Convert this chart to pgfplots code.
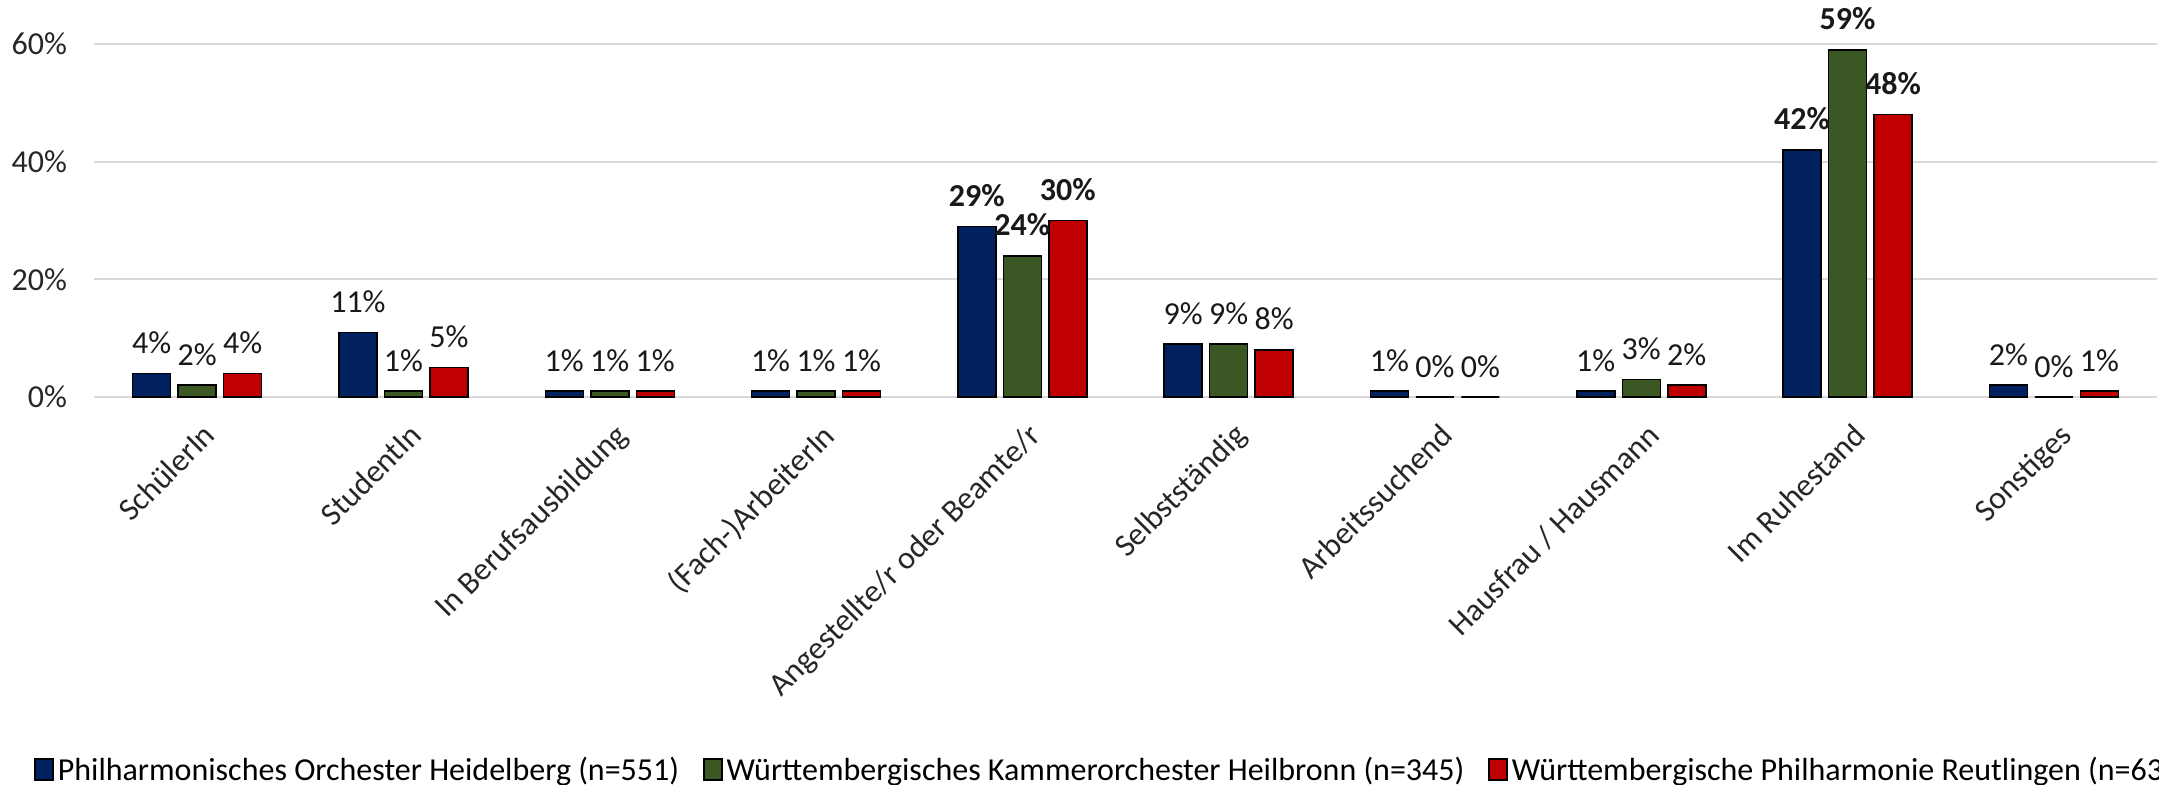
\documentclass[border=0pt]{standalone}
\usepackage{pgfplots}
\usepackage{pgfplotstable}
\pgfplotsset{compat=1.18}
\usepackage{fontspec}
\setmainfont{Carlito}
\definecolor{navy}{HTML}{002060}
\definecolor{dgreen}{HTML}{3B5824}
\definecolor{dred}{HTML}{C00000}
\definecolor{gridgrey}{HTML}{D9D9D9}

\pgfplotstableread{
x y b
0 4 0
1 11 0
2 1 0
3 1 0
4 29 1
5 9 0
6 1 0
7 1 0
8 42 1
9 2 0
}\heidelberg
\pgfplotstableread{
x y b
0 2 0
1 1 0
2 1 0
3 1 0
4 24 1
5 9 0
6 0 0
7 3 0
8 59 1
9 0 0
}\heilbronn
\pgfplotstableread{
x y b
0 4 0
1 5 0
2 1 0
3 1 0
4 30 1
5 8 0
6 0 0
7 2 0
8 48 1
9 1 0
}\reutlingen

\begin{document}
\begin{tikzpicture}
\path[use as bounding box] (0,0) rectangle (1079.5pt,-392pt);
\begin{axis}[
  at={(47pt,-22pt)}, anchor=north west,
  scale only axis, width=1031.5pt, height=176.5pt,
  xmin=-0.5, xmax=9.5, ymin=0, ymax=60,
  clip=false,
  ybar=3.75pt, bar width=19pt,
  axis line style={draw=none},
  major tick length=0pt,
  ymajorgrids, grid style={draw=gridgrey, line width=1pt},
  ytick={0,20,40,60},
  yticklabel={\pgfmathprintnumber{\tick}\%},
  /pgf/number format/assume math mode=true,
  yticklabel style={font=\fontsize{16}{19}\selectfont, xshift=-10pt, text=black!85},
  xtick={0,...,9},
  xticklabels={SchülerIn, StudentIn, In Berufsausbildung, (Fach-)ArbeiterIn, Angestellte/r oder Beamte/r, Selbstständig, Arbeitssuchend, Hausfrau / Hausmann, Im Ruhestand, Sonstiges},
  xticklabel style={font=\fontsize{16}{19}\selectfont, xshift=2pt, yshift=-12pt, rotate=45, anchor=north east, inner sep=0pt, text=black!85},
  point meta={\thisrow{y}+100*\thisrow{b}},
  nodes near coords={\pgfmathprintnumberto[fixed,precision=0,1000 sep={}]{\pgfplotspointmeta}{\mvs}\pgfmathtruncatemacro\mv{\mvs}\ifnum\mv>99 \pgfmathtruncatemacro\mv{\mv-100}\textbf{\mv\%}\else\mv\%\fi},
  every node near coord/.append style={font=\fontsize{16}{19}\selectfont, anchor=base, yshift=10pt, inner sep=0pt, text=black!90},
  legend style={at={(-0.0291,-1.0567)}, anchor=west, draw=none, fill=none,
    font=\fontsize{16}{19}\selectfont, legend columns=3, inner xsep=0pt,
    /tikz/every even column/.append style={column sep=10pt}},
  legend cell align=left,
  legend image code/.code={\draw[#1, line width=0.75pt] (0pt,-5pt) rectangle (9pt,5.5pt);},
]
\addplot[fill=navy, draw=black, line width=0.75pt] table[x=x, y=y] {\heidelberg};
\addplot[fill=dgreen, draw=black, line width=0.75pt] table[x=x, y=y] {\heilbronn};
\addplot[fill=dred, draw=black, line width=0.75pt] table[x=x, y=y] {\reutlingen};
\legend{Philharmonisches Orchester Heidelberg (n=551), Württembergisches Kammerorchester Heilbronn (n=345), Württembergische Philharmonie Reutlingen (n=63)}
\end{axis}
\end{tikzpicture}
\end{document}
